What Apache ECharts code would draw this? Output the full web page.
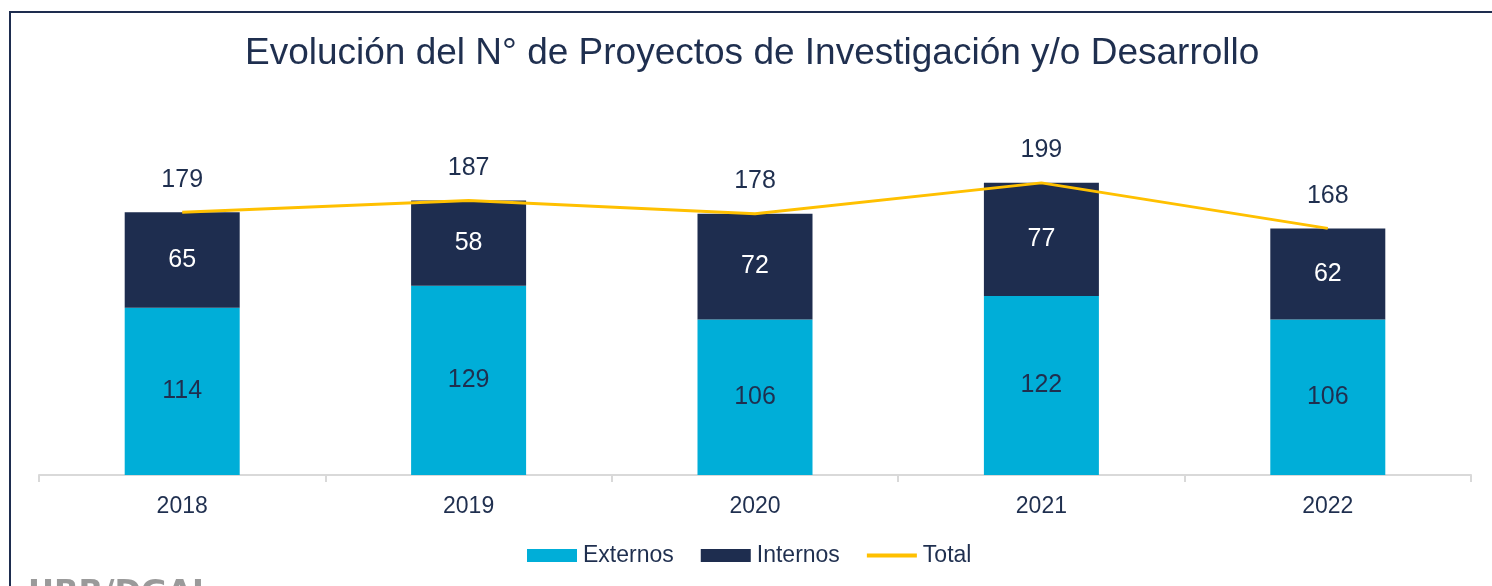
<!DOCTYPE html>
<html>
<head>
<meta charset="utf-8">
<script src="https://cdn.jsdelivr.net/npm/echarts@6/dist/echarts.min.js"></script>
<style>
html,body{margin:0;padding:0;background:#fff;}
#chart{width:1492px;height:586px;}
</style>
</head>
<body>
<div id="chart"></div>
<script>
const titleText = 'Evolución del N° de Proyectos de Investigación y/o Desarrollo';
const years = ['2018', '2019', '2020', '2021', '2022'];
const externos = [114, 129, 106, 122, 106];
const internos = [65, 58, 72, 77, 62];
const total = [179, 187, 178, 199, 168];
const seriesNames = ['Externos', 'Internos', 'Total'];
const footerText = 'UBB/DGAI';

const navy = '#1E2D4F';
const textColor = '#1F2F4F';
const gold = '#FFC000';
const font = '"Liberation Sans", Arial, sans-serif';

const chart = echarts.init(document.getElementById('chart'));
chart.setOption({
  backgroundColor: '#ffffff',
  animation: false,
  textStyle: { fontFamily: font },
  title: {
    text: titleText,
    left: 245,
    top: 35,
    padding: 0,
    textStyle: { fontFamily: font, fontSize: 37, fontWeight: 'normal', color: textColor }
  },
  graphic: [
    { type: 'rect', shape: { x: 9, y: 11, width: 1483, height: 2 }, style: { fill: navy }, silent: true },
    { type: 'rect', shape: { x: 9, y: 11, width: 2, height: 575 }, style: { fill: navy }, silent: true },
    { type: 'text', left: 28, top: 578, style: { text: footerText, fontFamily: '"DejaVu Sans", sans-serif', fontSize: 32, fontWeight: 'bold', fill: '#9a9a9a' }, silent: true }
  ],
  legend: {
    data: [
      { name: seriesNames[0], icon: 'rect' },
      { name: seriesNames[1], icon: 'rect' },
      { name: seriesNames[2], icon: 'path://M0,0H50V4H0Z', itemStyle: { color: gold } }
    ],
    bottom: 14,
    left: 522,
    itemWidth: 50,
    itemHeight: 13,
    itemGap: 27,
    textStyle: { fontFamily: font, fontSize: 23, color: textColor, padding: [0, 0, 0, 1] }
  },
  grid: { left: 39, right: 21, top: 108, bottom: 111, containLabel: false },
  xAxis: {
    type: 'category',
    data: years,
    boundaryGap: true,
    axisLine: { lineStyle: { color: '#D9D9D9', width: 2 } },
    axisTick: { show: true, interval: 0, length: 7, lineStyle: { color: '#D9D9D9', width: 2 } },
    axisLabel: { fontFamily: font, fontSize: 23, color: textColor, margin: 20 }
  },
  yAxis: {
    type: 'value',
    min: 0,
    max: 250,
    show: false,
    splitLine: { show: false }
  },
  series: [
    {
      name: seriesNames[0],
      type: 'bar',
      stack: 'a',
      data: externos,
      barWidth: 115,
      itemStyle: { color: '#00AED8' },
      label: { show: true, position: 'inside', fontFamily: font, fontSize: 25, color: textColor }
    },
    {
      name: seriesNames[1],
      type: 'bar',
      stack: 'a',
      data: internos,
      barWidth: 115,
      itemStyle: { color: navy },
      label: { show: true, position: 'inside', fontFamily: font, fontSize: 25, color: '#ffffff' }
    },
    {
      name: seriesNames[2],
      type: 'line',
      data: total,
      symbol: 'circle',
      symbolSize: 0,
      z: 5,
      lineStyle: { color: gold, width: 3 },
      itemStyle: { color: gold },
      label: { show: true, position: 'top', distance: 20, fontFamily: font, fontSize: 25, color: textColor }
    }
  ]
});
</script>
</body>
</html>
